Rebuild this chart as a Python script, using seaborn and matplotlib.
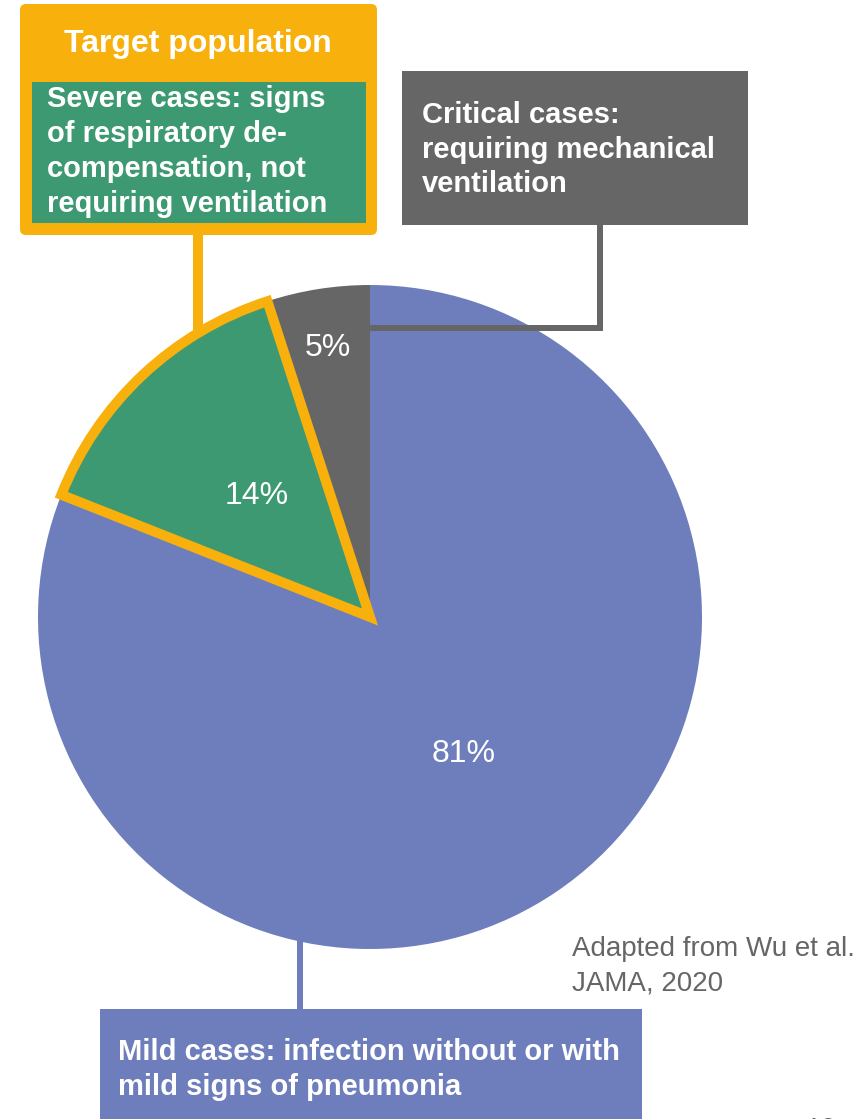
import matplotlib
matplotlib.use("Agg")
import matplotlib.pyplot as plt
from matplotlib.patches import Rectangle, FancyBboxPatch
import numpy as np
import seaborn as sns

# ---- data ----
categories = ["Critical", "Severe", "Mild"]
shares = [5, 14, 81]
pct_labels = ["5%", "14%", "81%"]
title_text = "Target population"
severe_lines = ["Severe cases: signs", "of respiratory de-", "compensation, not", "requiring ventilation"]
critical_lines = ["Critical cases:", "requiring mechanical", "ventilation"]
mild_lines = ["Mild cases: infection without or with", "mild signs of pneumonia"]
source_lines = ["Adapted from Wu et al.", "JAMA, 2020"]
page_number = "10"

# ---- style ----
BLUE = "#6E7EBC"
GREEN = "#3D9972"
GRAY = "#666666"
ORANGE = "#F8B00C"
TXT_GRAY = "#666666"
colors = [GRAY, GREEN, BLUE]

sns.set_theme(style="white")
plt.rcParams["font.family"] = ["Liberation Sans", "DejaVu Sans"]

W, H = 861, 1119
fig = plt.figure(figsize=(W / 100, H / 100), dpi=100)
ax = fig.add_axes([0, 0, 1, 1])


def Y(y):
    return H - y


PX = 0.72  # points per pixel

cx, cy, R = 370, 617, 332
wedges, _ = ax.pie(shares, colors=colors, startangle=90, counterclock=True,
                   center=(cx, Y(cy)), radius=R,
                   wedgeprops=dict(linewidth=0))
for w in wedges:
    w.set_zorder(1)
sev = wedges[1]
sev.set_edgecolor(ORANGE)
sev.set_linewidth(10 * PX)
sev.set_joinstyle("miter")
sev.set_zorder(3)

# percentage labels placed at wedge mid-angles
dists = [0.82, 0.5, 0.5]
for w, lab, d in zip(wedges, pct_labels, dists):
    ang = np.deg2rad((w.theta1 + w.theta2) / 2)
    ax.text(cx + d * R * np.cos(ang), Y(cy) + d * R * np.sin(ang), lab,
            ha="center", va="center", color="white", fontsize=23, zorder=6)

ax.set_xlim(0, W)
ax.set_ylim(0, H)
ax.set_aspect("auto")
ax.axis("off")

# ---- connectors ----
ax.plot([198, 198], [Y(234), Y(331)], color=ORANGE, lw=10 * PX,
        solid_capstyle="butt", zorder=2.5)
ax.plot([600, 600, 367], [Y(224), Y(328), Y(328)], color=GRAY, lw=6 * PX,
        solid_capstyle="butt", solid_joinstyle="miter", zorder=2)
ax.plot([300, 300], [Y(940), Y(1010)], color=BLUE, lw=6 * PX,
        solid_capstyle="butt", zorder=2)

# ---- boxes ----
ax.add_patch(FancyBboxPatch((20, Y(235)), 357, 231,
                            boxstyle="round,pad=0,rounding_size=6",
                            facecolor=ORANGE, edgecolor="none", zorder=4))
ax.add_patch(Rectangle((32, Y(223)), 334, 141, facecolor=GREEN,
                       edgecolor="none", zorder=4.5))
ax.add_patch(Rectangle((402, Y(225)), 346, 154, facecolor=GRAY,
                       edgecolor="none", zorder=4))
ax.add_patch(Rectangle((100, Y(1125)), 542, 116, facecolor=BLUE,
                       edgecolor="none", zorder=4))

# ---- box texts ----
ax.text(198, Y(52), title_text, ha="center", va="baseline", color="white",
        fontsize=23, fontweight="bold", zorder=6)
for i, line in enumerate(severe_lines):
    ax.text(47, Y(107 + 35 * i), line, ha="left", va="baseline", color="white",
            fontsize=21, fontweight="bold", zorder=6)
for i, line in enumerate(critical_lines):
    ax.text(422, Y(123 + 34.5 * i), line, ha="left", va="baseline", color="white",
            fontsize=21, fontweight="bold", zorder=6)
for i, line in enumerate(mild_lines):
    ax.text(118, Y(1060 + 35 * i), line, ha="left", va="baseline", color="white",
            fontsize=21, fontweight="bold", zorder=6)
for i, line in enumerate(source_lines):
    ax.text(572, Y(956 + 34.5 * i), line, ha="left", va="baseline", color=TXT_GRAY,
            fontsize=20, zorder=6)
ax.text(806, Y(1117), page_number, ha="left", va="top", color=TXT_GRAY,
        fontsize=20, zorder=6)

fig.savefig("out.png", dpi=100, facecolor="white")
